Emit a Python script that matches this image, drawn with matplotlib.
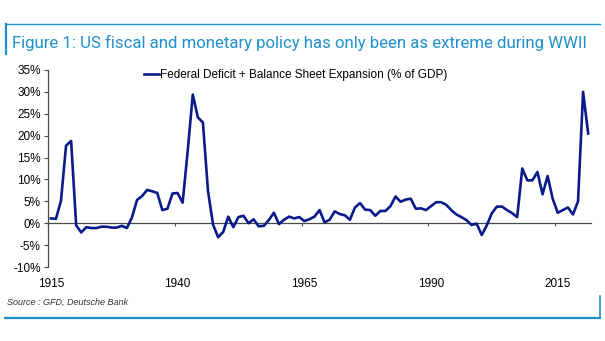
import numpy as np
import matplotlib
matplotlib.use("Agg")
import matplotlib.pyplot as plt
from matplotlib.lines import Line2D
from matplotlib.ticker import FixedLocator, FuncFormatter

plt.rcParams['font.family'] = ['Liberation Sans', 'DejaVu Sans']

years = np.arange(1915, 2022)
deficit_bs = [
    1.1, 1.0, 5.1, 17.7, 18.8, -0.5, -2.1, -0.9, -1.1, -1.1,      # 1915-1924
    -0.8, -0.8, -1.0, -1.0, -0.6, -1.1, 1.3, 5.3, 6.2, 7.6,       # 1925-1934
    7.3, 6.9, 3.0, 3.3, 6.8, 6.9, 4.7, 16.5, 29.4, 24.2,          # 1935-1944
    23.0, 7.4, -0.3, -3.2, -2.0, 1.5, -0.9, 1.4, 1.7, 0.0,        # 1945-1954
    0.9, -0.7, -0.6, 0.7, 2.4, -0.2, 0.8, 1.5, 1.1, 1.4,          # 1955-1964
    0.5, 0.9, 1.5, 3.0, 0.2, 0.8, 2.7, 2.1, 1.8, 0.8,             # 1965-1974
    3.6, 4.6, 3.1, 3.0, 1.7, 2.8, 2.8, 3.9, 6.1, 4.9,             # 1975-1984
    5.4, 5.6, 3.3, 3.4, 3.0, 3.9, 4.8, 4.8, 4.2, 3.0,             # 1985-1994
    2.0, 1.4, 0.7, -0.4, -0.1, -2.7, -0.5, 2.3, 3.8, 3.8,         # 1995-2004
    3.0, 2.3, 1.4, 12.5, 9.8, 9.8, 11.7, 6.6, 10.8, 5.6,          # 2005-2014
    2.4, 3.0, 3.6, 2.0, 5.0, 30.0, 20.5,                          # 2015-2021
]
label_years = [1915, 1940, 1965, 1990, 2015]
y_ticks = [-10, -5, 0, 5, 10, 15, 20, 25, 30, 35]

title = "Figure 1: US fiscal and monetary policy has only been as extreme during WWII"
series_name = "Federal Deficit + Balance Sheet Expansion (% of GDP)"
source = "Source : GFD, Deutsche Bank"

db_blue = "#1f90cc"
navy = "#0b1a8a"
grey = "#4a4a4a"

W, H = 605, 341
fig = plt.figure(figsize=(W / 100, H / 100), dpi=100)

ax = fig.add_axes([48.3 / W, 1 - 267 / H, 542.4 / W, 197 / H])
ax.plot(years, deficit_bs, color=navy, lw=1.9, solid_joinstyle='round')

ax.set_xlim(years[0] - 0.5, years[-1] + 0.5)
ax.set_ylim(y_ticks[0], y_ticks[-1])

for s in ['top', 'right', 'bottom']:
    ax.spines[s].set_visible(False)
ax.spines['left'].set_color(grey)
ax.spines['left'].set_linewidth(0.9)

ax.yaxis.set_major_locator(FixedLocator(y_ticks))
ax.yaxis.set_major_formatter(FuncFormatter(lambda v, p: f"{v:.0f}%"))
ax.tick_params(axis='y', direction='out', length=3, width=0.8, color=grey,
               labelsize=8.5, pad=2.5, labelcolor='black')

# year labels sit under each category, ticks fall between categories
ax.set_xticks(label_years)
ax.set_xticklabels([str(y) for y in label_years])
ax.tick_params(axis='x', length=0, labelsize=8.5, pad=8, labelcolor='black')

zero_frac = (0 - y_ticks[0]) / (y_ticks[-1] - y_ticks[0])
zax = ax.secondary_xaxis(zero_frac)
zax.spines['bottom'].set_color(grey)
zax.spines['bottom'].set_linewidth(0.9)
zax.set_xticks([y - 0.5 for y in label_years])
zax.set_xticklabels([])
zax.tick_params(axis='x', direction='out', length=2.5, width=0.8, color=grey)

handle = Line2D([], [], color=navy, lw=1.9)
leg = ax.legend([handle], [series_name], loc='center left',
                bbox_to_anchor=(0.176, 0.975), frameon=False, fontsize=8.5,
                handlelength=1.3, handletextpad=0.1, borderpad=0, borderaxespad=0)

# header and footer rules
fig.add_artist(Line2D([5 / W, 600 / W], [1 - 24 / H] * 2, color=db_blue, lw=1.0))
fig.add_artist(Line2D([5.5 / W] * 2, [1 - 24 / H, 1 - 54 / H], color=db_blue, lw=1.6))
fig.text(12 / W, 1 - 43 / H, title, color=db_blue, fontsize=12.1,
         va='center', ha='left', family=['Roboto', 'DejaVu Sans'])

fig.add_artist(Line2D([5 / W, 600 / W], [1 - 318 / H] * 2, color=db_blue, lw=1.6))
fig.add_artist(Line2D([599.5 / W] * 2, [1 - 318 / H, 1 - 296 / H], color=db_blue, lw=1.2))
fig.text(7 / W, 1 - 302 / H, source, color='#333333', fontsize=6.5, style='italic',
         va='center', ha='left')

fig.savefig("out.png", dpi=100)
